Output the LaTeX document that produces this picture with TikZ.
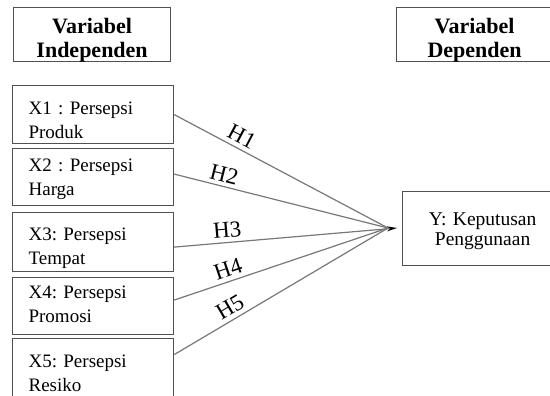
\documentclass[tikz,border=0pt]{standalone}
\usepackage{fontspec}
\setmainfont{Liberation Serif}
\usetikzlibrary{arrows.meta}
\frenchspacing

\definecolor{garisbox}{HTML}{505050}
\definecolor{garisjalur}{HTML}{787878}

\begin{document}
\begin{tikzpicture}[x=1pt, y=-1pt, >={Stealth[length=10pt,width=5pt,black]},
    judul/.style={draw=garisbox, line width=1.2pt, inner xsep=4pt, inner ysep=0pt,
        text width=149pt, align=center, anchor=north west,
        font=\fontsize{22}{24}\selectfont\bfseries, text height=26pt, text depth=28pt},
    varbox/.style 2 args={draw=garisbox, line width=1.2pt, inner xsep=16pt, inner ysep=0pt,
        text width=129pt, align=left, anchor=north west,
        font=\fontsize{19}{23.5}\selectfont, text height=#1, text depth=#2},
    hasil/.style={draw=garisbox, line width=1.2pt, inner xsep=8pt, inner ysep=0pt,
        text width=144pt, align=center, anchor=north west,
        font=\fontsize{19.5}{19.5}\selectfont, text height=34pt, text depth=40pt},
    jalur/.style={draw=garisjalur, line width=1.2pt},
    hipotesis/.style={sloped, above, inner sep=4pt, font=\fontsize{23}{23}\selectfont}]

% Bidang gambar (550 x 396)
\useasboundingbox (0,0) rectangle (550,396);
\fill[white] (0,0) rectangle (550,396);
\clip (0,0) rectangle (550,396);

% =============================================
% JUDUL KOLOM
% =============================================
\node[judul] (indep) at (13,7) {Variabel\\Independen};
\node[judul, text width=148pt] (dep) at (396,7) {Variabel\\Dependen};

% =============================================
% VARIABEL INDEPENDEN (X1 ... X5)
% =============================================
\node[varbox={29pt}{29pt}] (x1) at (12,85)  {X1 : Persepsi\\Produk};
\node[varbox={23pt}{34pt}] (x2) at (12,148) {X2 : Persepsi\\Harga};
\node[varbox={28pt}{31pt}] (x3) at (12,212) {X3: Persepsi\\Tempat};
\node[varbox={21pt}{36pt}] (x4) at (12,277) {X4: Persepsi\\Promosi};
\node[varbox={29pt}{31pt}] (x5) at (12,338) {X5: Persepsi\\Resiko};

% =============================================
% VARIABEL DEPENDEN (Y)
% =============================================
\node[hasil] (y) at (402,191) {Y: Keputusan\\Penggunaan};

% Titik temu garis dan ujung panah
\coordinate (temu) at (388,228);
\coordinate (ujung) at (397,228);

% Hipotesis H1 ... H5
\draw[jalur] (x1.east) -- node[hipotesis, pos=0.29] {H1} (temu);
\draw[jalur] ([yshift=3pt]x2.east) -- node[hipotesis, pos=0.22] {H2} (temu);
\draw[jalur, ->] ([yshift=-5pt]x3.east) -- node[hipotesis, pos=0.243] {H3} (ujung);
\draw[jalur] ([yshift=6pt]x4.east) -- node[hipotesis, pos=0.27] {H4} (temu);
\draw[jalur] ([yshift=14pt]x5.east) -- node[hipotesis, pos=0.29] {H5} (temu);

\end{tikzpicture}
\end{document}
